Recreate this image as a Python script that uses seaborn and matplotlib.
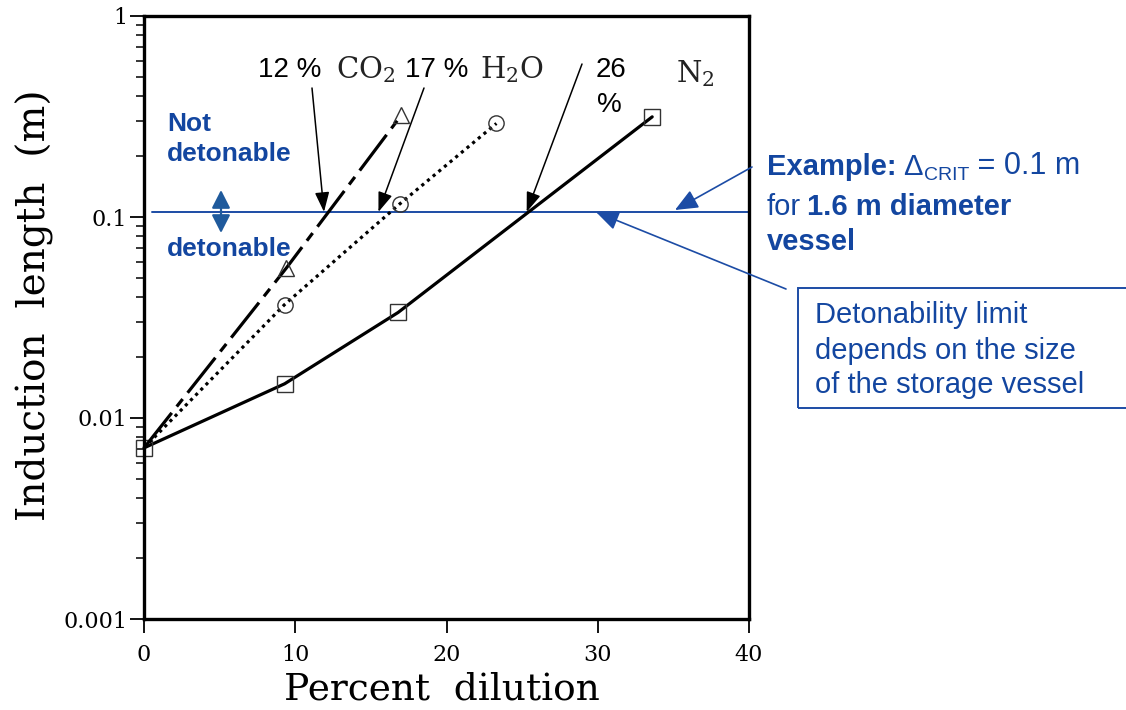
import numpy as np
import pandas as pd
import matplotlib
matplotlib.use("Agg")
import matplotlib.pyplot as plt
from matplotlib.patches import Rectangle, FancyArrowPatch
from matplotlib.ticker import LogLocator, NullFormatter
import seaborn as sns

# ---- data: induction length vs. percent dilution ----
n2_dilution = [0, 9.3, 16.8, 33.6]
n2_length = [0.0071, 0.0148, 0.0335, 0.315]

co2_dilution = [0, 9.4, 17.0]
co2_length = [0.0071, 0.0556, 0.32]

h2o_dilution = [0, 9.3, 16.9, 23.3]
h2o_length = [0.0071, 0.0367, 0.116, 0.292]

crit_length = 0.106          # detonability limit for a 1.6 m vessel
limit_pointers = {"CO2": 11.9, "H2O": 15.5, "N2": 25.3}   # where the callouts hit the limit line

x_ticks = [0, 10, 20, 30, 40]
y_ticks = [0.001, 0.01, 0.1, 1]
y_tick_labels = ["0.001", "0.01", "0.1", "1"]

# ---- style ----
sns.set_theme(style="ticks")
plt.rcParams["font.family"] = ["Liberation Sans", "DejaVu Sans"]
plt.rcParams["mathtext.fontset"] = "dejavuserif"

SERIF = "DejaVu Serif"
BLUE_TXT = "#1346A0"
BLUE_LINE = "#1C4CA5"
BLUE_ARROW = "#1F5A9C"

W, H = 1126, 710
fig = plt.figure(figsize=(W / 100, H / 100), dpi=100)
ax = fig.add_axes([144 / W, 1 - 619 / H, 605 / W, 603 / H])


def fpx(x, y):
    """Figure-pixel position (origin top-left) to figure fraction."""
    return (x / W, 1 - y / H)


# ---- series ----
common = dict(ax=ax, color="black", lw=2.3, markerfacecolor="none",
              markeredgecolor="#333333", markeredgewidth=1.0, sort=False,
              clip_on=False)
sns.lineplot(x=n2_dilution, y=n2_length, linestyle="-", marker="s",
             markersize=12, **common)
sns.lineplot(x=co2_dilution, y=co2_length, linestyle=(0, (14, 2.5, 3, 2.5)),
             marker="^", markersize=12, markevery=[1, 2], **common)
sns.lineplot(x=h2o_dilution, y=h2o_length, linestyle=(0, (1, 1.3)),
             marker="o", markersize=11, markevery=[1, 2, 3], **common)

# ---- axes ----
ax.set_yscale("log")
ax.set_xlim(0, 40)
ax.set_ylim(0.001, 1)
ax.set_xticks(x_ticks)
ax.set_xticklabels([str(v) for v in x_ticks])
ax.set_yticks(y_ticks)
ax.set_yticklabels(y_tick_labels)
ax.yaxis.set_minor_locator(LogLocator(base=10, subs=np.arange(2, 10)))
ax.yaxis.set_minor_formatter(NullFormatter())
ax.tick_params(axis="both", which="major", direction="out", length=10,
               width=1.3, labelsize=16, colors="black")
ax.tick_params(axis="y", which="major", pad=2)
ax.tick_params(axis="x", which="major", pad=8)
ax.tick_params(axis="y", which="minor", direction="out", length=6, width=1.1,
               colors="black")
for lab in ax.get_xticklabels() + ax.get_yticklabels():
    lab.set_fontfamily(SERIF)
for sp in ax.spines.values():
    sp.set_visible(True)
    sp.set_linewidth(2.4)
    sp.set_color("black")

ax.set_ylabel("Induction  length  (m)", fontfamily=SERIF, fontsize=28,
              color="black")
ax.yaxis.set_label_coords((54 - 144) / 605, (619 - 305) / 603)
ax.set_xlabel("Percent  dilution", fontfamily=SERIF, fontsize=27,
              color="black")
ax.xaxis.set_label_coords((442 - 144) / 605, (619 - 672) / 603)

# ---- detonability limit line ----
ax.axhline(crit_length, xmin=(152 - 144) / 605, xmax=1.0, color=BLUE_LINE,
           lw=1.4, clip_on=False, zorder=1)

# ---- dilution callouts ----
black_arrow = dict(arrowstyle="-|>,head_length=0.6,head_width=0.22",
                   color="black", lw=1.1, shrinkA=0, shrinkB=0,
                   mutation_scale=20)
ax.annotate("", xy=(limit_pointers["CO2"], crit_length), xycoords="data",
            xytext=fpx(312, 88), textcoords="figure fraction",
            arrowprops=black_arrow)
ax.annotate("", xy=(limit_pointers["H2O"], crit_length), xycoords="data",
            xytext=fpx(424, 88), textcoords="figure fraction",
            arrowprops=black_arrow)
ax.annotate("", xy=(limit_pointers["N2"], crit_length), xycoords="data",
            xytext=fpx(582, 64), textcoords="figure fraction",
            arrowprops=black_arrow)

fig.text(*fpx(258, 77), "12 %", fontsize=20, color="black", va="baseline")
fig.text(*fpx(336, 78), r"$\mathrm{CO_2}$", fontsize=21, color="#222222",
         va="baseline", math_fontfamily="dejavuserif")
fig.text(*fpx(405, 77), "17 %", fontsize=20, color="black", va="baseline")
fig.text(*fpx(480, 78), r"$\mathrm{H_2O}$", fontsize=21, color="#222222",
         va="baseline", math_fontfamily="dejavuserif")
fig.text(*fpx(596, 77), "26", fontsize=20, color="black", va="baseline")
fig.text(*fpx(597, 112), "%", fontsize=20, color="black", va="baseline")
fig.text(*fpx(676, 82), r"$\mathrm{N_2}$", fontsize=21, color="#222222",
         va="baseline", math_fontfamily="dejavuserif")

# ---- detonable / not detonable ----
fig.text(*fpx(167, 131), "Not", fontsize=19, fontweight="bold",
         color=BLUE_TXT, va="baseline")
fig.text(*fpx(167, 161), "detonable", fontsize=19, fontweight="bold",
         color=BLUE_TXT, va="baseline")
fig.text(*fpx(167, 256), "detonable", fontsize=19, fontweight="bold",
         color=BLUE_TXT, va="baseline")
fig.add_artist(FancyArrowPatch(
    fpx(221, 233), fpx(221, 190), transform=fig.transFigure,
    arrowstyle="<|-|>,head_length=0.55,head_width=0.28",
    mutation_scale=20, color=BLUE_ARROW, lw=1.6, shrinkA=0, shrinkB=0))

# ---- example note ----
t1 = fig.text(*fpx(767, 175), "Example:", fontsize=21, fontweight="bold",
              color=BLUE_TXT, va="baseline")
t2 = ax.annotate("\u0394", xy=(1, 0), xycoords=t1, xytext=(5, 0),
                 textcoords="offset points", fontsize=21, color=BLUE_TXT,
                 va="bottom", ha="left")
t3 = ax.annotate("CRIT", xy=(1, 0), xycoords=t2, xytext=(0.5, -2.2),
                 textcoords="offset points", fontsize=14, color=BLUE_TXT,
                 va="bottom", ha="left")
ax.annotate(" = 0.1 m", xy=(1, 0), xycoords=t3, xytext=(0, 2.2),
            textcoords="offset points", fontsize=22, color=BLUE_TXT,
            va="bottom", ha="left")
t5 = fig.text(*fpx(767, 215), "for", fontsize=21, color=BLUE_TXT,
              va="baseline")
ax.annotate("1.6 m diameter", xy=(1, 0), xycoords=t5, xytext=(4, 0),
            textcoords="offset points", fontsize=21, fontweight="bold",
            color=BLUE_TXT, va="bottom", ha="left")
fig.text(*fpx(767, 250), "vessel", fontsize=21, fontweight="bold",
         color=BLUE_TXT, va="baseline")

blue_arrow = dict(arrowstyle="-|>,head_length=0.7,head_width=0.3",
                  color=BLUE_LINE, lw=1.2, shrinkA=0, shrinkB=0,
                  mutation_scale=20)
ax.annotate("", xy=fpx(675, 210), xycoords="figure fraction",
            xytext=fpx(752, 167), textcoords="figure fraction",
            arrowprops=blue_arrow, annotation_clip=False)
ax.annotate("", xy=fpx(596, 212), xycoords="figure fraction",
            xytext=fpx(786, 289), textcoords="figure fraction",
            arrowprops=blue_arrow, annotation_clip=False)

# ---- boxed note ----
fig.add_artist(Rectangle(fpx(798, 408), (1150 - 798) / W, 120 / H,
                         transform=fig.transFigure, fill=False,
                         edgecolor=BLUE_LINE, lw=1.4))
for txt, base in [("Detonability limit", 323),
                  ("depends on the size", 359),
                  ("of the storage vessel", 393)]:
    fig.text(*fpx(815, base), txt, fontsize=21, color=BLUE_TXT,
             va="baseline")

fig.savefig("out.png", dpi=100)
